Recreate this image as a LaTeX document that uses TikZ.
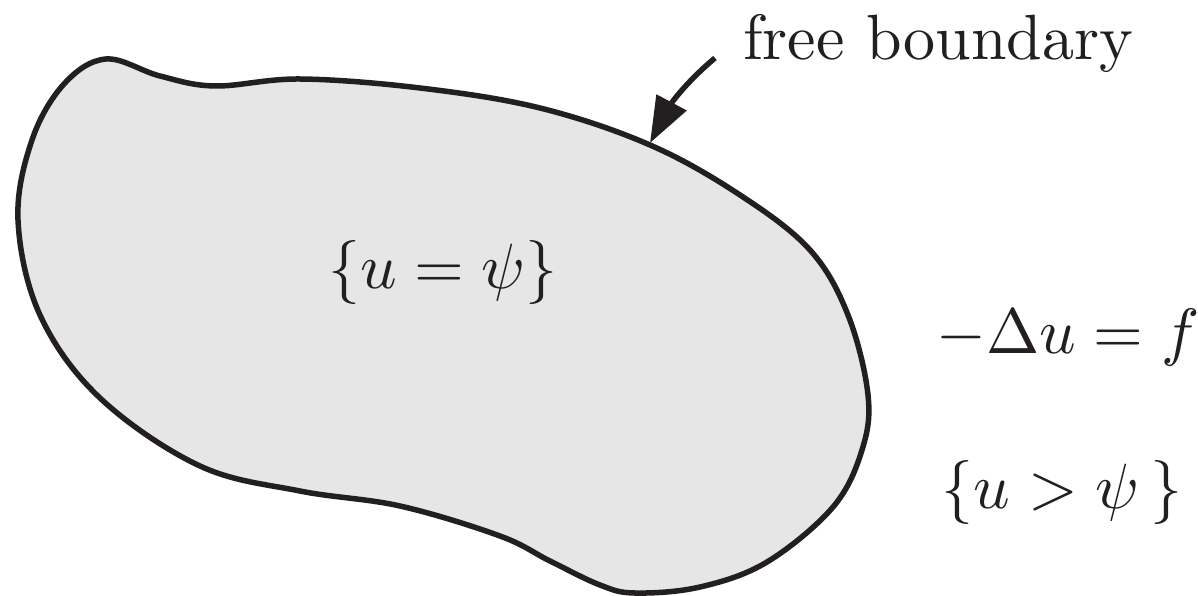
\documentclass[tikz,border=0pt]{standalone}
\usetikzlibrary{arrows.meta}
\definecolor{ink}{HTML}{231F20}
\definecolor{region}{HTML}{E6E6E6}
\tikzset{
  lbl/.style={inner sep=0pt, text=ink, scale=6.4},
  boundary/.style={draw=ink, fill=region, line width=5.5pt, line join=round},
  pointer/.style={draw=ink, line width=5.5pt, -{Triangle[length=46pt,width=33pt]}}
}
\begin{document}
\begin{tikzpicture}[x=1pt,y=-1pt]
\useasboundingbox (0,0) rectangle (1198,596);
\draw[boundary] plot[smooth cycle, tension=0.6] coordinates {
 (106,59) (160,76) (215,86) (300,79) (420,88) (540,108) (650,145)
 (740,195) (810,250) (848,315) (868,395) (862,450) (833,507)
 (767,562) (700,587) (635,593) (600,585) (550,561) (500,536) (400,506)
 (300,491) (200,466) (100,398) (40,315) (18,220)
 (32,140) (64,84)};
\coordinate (tail) at (715,58);
\coordinate (tip) at (650,143);
\draw[pointer] (tail) to[out=-140,in=62] (tip);
\node[lbl, anchor=base west] (fb) at (742,60) {free boundary};
\node[lbl, anchor=base] (inner) at (443,288) {$\{u=\psi\}$};
\node[lbl, anchor=base west] (pde) at (935,353) {$-\Delta u=f$};
\node[lbl, anchor=base] (outer) at (1062,508) {$\{u>\psi\,\}$};
\end{tikzpicture}
\end{document}
